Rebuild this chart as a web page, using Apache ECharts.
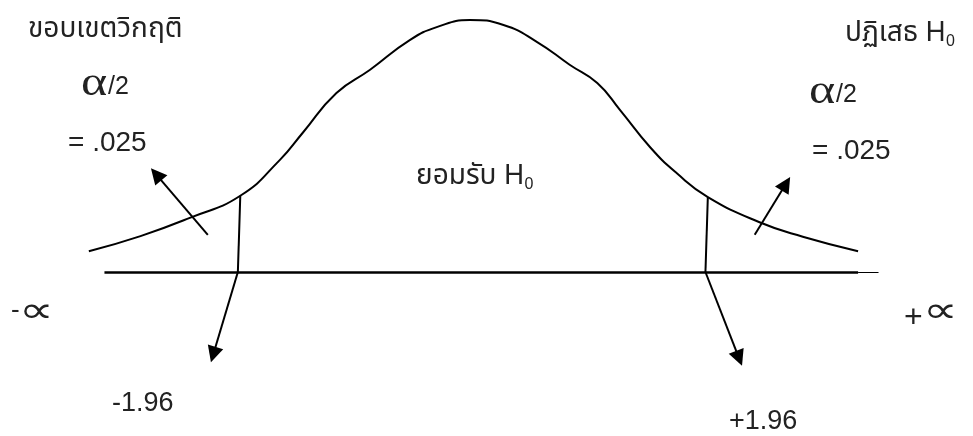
<!DOCTYPE html>
<html>
<head>
<meta charset="utf-8">
<script src="https://cdn.jsdelivr.net/npm/echarts@6/dist/echarts.min.js"></script>
<style>
  html, body { margin: 0; padding: 0; background: #fff; }
  #chart { width: 973px; height: 436px; }
</style>
</head>
<body>
<div id="chart"></div>
<script>
// curve: z position and curve height (density-like units)
const curveZ = [-3.2, -2.77, -2.36, -1.94, -1.61, -1.42, -1.14, -0.86, -0.53, -0.3, -0.03,
  0.25, 0.53, 0.8, 1.03, 1.22, 1.47, 1.69, 1.95, 2.38, 2.74, 3.2]
const curveH = [0.033, 0.057, 0.086, 0.121, 0.178, 0.221, 0.284, 0.321, 0.368, 0.389, 0.4,
  0.392, 0.365, 0.329, 0.3, 0.257, 0.198, 0.157, 0.119, 0.079, 0.056, 0.033]

// baseline (z axis)
const baseThick = [[-3.07, 0], [3.2, 0]]
const baseThin = [[3.2, 0], [3.37, 0]]

// critical value drop lines: curve top to baseline
const critLines = [
  [[-1.94, 0.121], [-1.96, 0]],
  [[1.95, 0.119], [1.93, 0]],
]

// arrows: from -> to (arrowhead)
const arrows = [
  [[-1.96, 0], [-2.165, -0.131]],
  [[1.93, 0], [2.21, -0.137]],
  [[-2.21, 0.059], [-2.64, 0.155]],
  [[2.34, 0.059], [2.6, 0.14]],
]

const chart = echarts.init(document.getElementById('chart'), null, { renderer: 'canvas' })

const THAI = '"Noto Sans Thai", "Noto Sans", "DejaVu Sans", sans-serif'
const LATIN = '"Liberation Sans", Arial, sans-serif'
const SYM = '"DejaVu Sans", sans-serif'
const ALPHA = '"Liberation Serif", serif'

const measureCtx = document.createElement('canvas').getContext('2d')
function textWidth(text, size, family) {
  measureCtx.font = size + 'px ' + family
  return measureCtx.measureText(text).width
}

function txt(text, x, y, size, family, extra) {
  return Object.assign({
    type: 'text',
    x, y,
    style: {
      text, fill: '#222', fontSize: size, fontFamily: family || LATIN,
      align: 'left', verticalAlign: 'middle',
    },
  }, extra || {})
}

// label followed by a subscript 0
function withSub(text, x, y, size, family) {
  const w = textWidth(text, size, family)
  return [txt(text, x, y, size, family), txt('0', x + w, y + 7, 16, LATIN)]
}

const option = {
  animation: false,
  backgroundColor: '#fff',
  grid: { left: 0, right: 0, top: 0, bottom: 0 },
  xAxis: { type: 'value', min: -3.939, max: 4.156, show: false },
  yAxis: { type: 'value', min: -0.2603, max: 0.4317, show: false },
  series: [
    {
      type: 'line',
      data: curveZ.map((z, i) => [z, curveH[i]]),
      smooth: 0.5,
      symbol: 'none',
      lineStyle: { color: '#000', width: 2 },
    },
    {
      type: 'lines',
      coordinateSystem: 'cartesian2d',
      lineStyle: { color: '#000', width: 2.5, opacity: 1 },
      data: [{ coords: baseThick }],
    },
    {
      type: 'lines',
      coordinateSystem: 'cartesian2d',
      lineStyle: { color: '#000', width: 1, opacity: 1 },
      data: [{ coords: baseThin }],
    },
    {
      type: 'lines',
      coordinateSystem: 'cartesian2d',
      lineStyle: { color: '#000', width: 2, opacity: 1 },
      data: critLines.map((c) => ({ coords: c })),
    },
    {
      type: 'lines',
      coordinateSystem: 'cartesian2d',
      symbol: ['none', 'triangle'],
      symbolSize: [13, 16],
      lineStyle: { color: '#000', width: 2, opacity: 1 },
      data: arrows.map((c) => ({ coords: c })),
    },
  ],
  graphic: [
    txt('ขอบเขตวิกฤติ', 28, 31, 28, THAI),
    txt('α', 81, 84, 40, ALPHA, { scaleX: 1.25 }),
    txt('/2', 108, 87, 25),
    txt('= .025', 68, 143, 28),
    ...withSub('ปฏิเสธ H', 845, 35, 28, THAI),
    txt('α', 809, 92, 40, ALPHA, { scaleX: 1.25 }),
    txt('/2', 836, 95, 25),
    txt('= .025', 812, 151, 28),
    ...withSub('ยอมรับ H', 416, 178, 28, THAI),
    txt('-', 11, 311, 26),
    txt('∝', 19, 313, 36, SYM, { scaleX: 1.35 }),
    txt('+', 904, 318, 32),
    txt('∝', 923, 313, 36, SYM, { scaleX: 1.35 }),
    txt('-1.96', 112, 404, 27),
    txt('+1.96', 729, 422, 27),
  ],
}

chart.setOption(option)
</script>
</body>
</html>
